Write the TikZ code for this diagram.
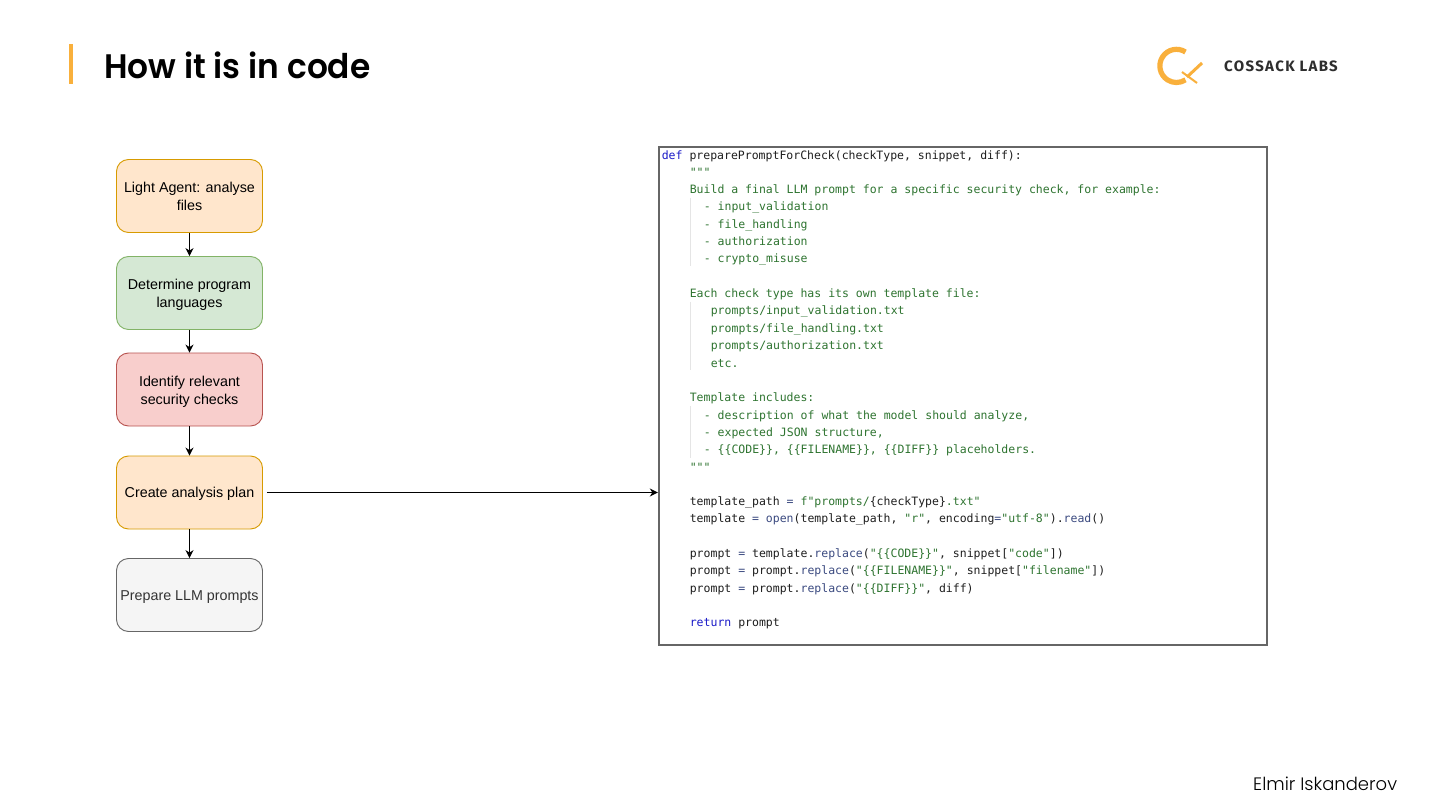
\documentclass[tikz,border=0pt]{standalone}
\usepackage{fontspec}
\usetikzlibrary{arrows.meta}
\setmainfont{Liberation Sans}
\newfontfamily\codef{DejaVu Sans Mono}
\newfontfamily\titlef[FakeStretch=0.965]{Poppins SemiBold}
\newfontfamily\lightf{Poppins Light}
\newfontfamily\logof[LetterSpace=9]{Fira Sans}
\definecolor{kw}{HTML}{1A1AC8}
\definecolor{str}{HTML}{2E7430}
\definecolor{fn}{HTML}{3B4A80}
\definecolor{txt}{HTML}{1E1E1E}
\definecolor{acc}{HTML}{F9B03C}
\newcommand{\K}[1]{\textcolor{kw}{#1}}
\newcommand{\St}[1]{\textcolor{str}{#1}}
\newcommand{\Fn}[1]{\textcolor{fn}{#1}}
\newcommand{\TwoL}[2]{\raisebox{-6pt}[0pt][0pt]{\begin{tabular}{@{}c@{}}#1\\#2\end{tabular}}}
\newcommand{\OneL}[1]{\raisebox{-5pt}[0pt][0pt]{#1}}
\tikzset{
  x=1pt,y=-1pt,
  flow/.style={draw,rounded corners=12pt,line width=0.9pt,minimum width=146pt,minimum height=73pt,
    align=center,font=\fontsize{14.3}{18}\selectfont,inner sep=0pt,text=black},
  orangebox/.style={flow,fill=Ofill,draw=Odraw},
  greenbox/.style={flow,fill=Gfill,draw=Gdraw},
  redbox/.style={flow,fill=Rfill,draw=Rdraw},
  greybox/.style={flow,fill=Wfill,draw=Wdraw,text=Wtext},
  link/.style={draw=black,line width=1pt,-{Stealth[length=8pt,width=8pt]}},
  code/.style={anchor=base west,inner sep=0pt,font=\codef\fontsize{11.5}{14}\selectfont,text=txt},
  doc/.style={code,text=str},
  guide/.style={draw=black!10,line width=0.6pt},
}
\definecolor{Ofill}{HTML}{FFE6CC}\definecolor{Odraw}{HTML}{D79B00}
\definecolor{Gfill}{HTML}{D5E8D4}\definecolor{Gdraw}{HTML}{82B366}
\definecolor{Rfill}{HTML}{F8CECC}\definecolor{Rdraw}{HTML}{B85450}
\definecolor{Wfill}{HTML}{F5F5F5}\definecolor{Wdraw}{HTML}{666666}\definecolor{Wtext}{HTML}{333333}
\begin{document}
\begin{tikzpicture}
\useasboundingbox (0,0) rectangle (1440,810);
\fill[white] (0,0) rectangle (1440,810);
% header
\fill[acc] (69,44) rectangle (73,84);
\node[anchor=base west,inner sep=0pt,font=\titlef\fontsize{34}{40}\selectfont] (title) at (104,79) {How it is in code};
% logo
\draw[acc,line width=5.2pt] (1185.5,52) arc[start angle=-57,end angle=-303,radius=16.6];
\draw[acc,line width=3pt] (1187,77) -- (1202,63);
\draw[acc,line width=2pt] (1182,72) -- (1197,83);
\node[anchor=base west,inner sep=0pt,font=\logof\fontsize{15}{18}\selectfont\bfseries,text=black!82] (logo) at (1224,72) {COSSACK LABS};
\node[anchor=base west,inner sep=0pt,font=\lightf\fontsize{18}{22}\selectfont] (author) at (1253,790) {Elmir Iskanderov};
% flow
\node[orangebox] (a) at (189.5,196) {\TwoL{Light Agent: analyse}{files}};
\node[greenbox] (b) at (189.5,293) {\TwoL{Determine program}{languages}};
\node[redbox] (c) at (189.5,389.5) {\TwoL{Identify relevant}{security checks}};
\node[orangebox] (d) at (189.5,492.5) {\OneL{Create analysis plan}};
\node[greybox] (e) at (189.5,595) {\OneL{Prepare LLM prompts}};
\draw[link] (a) -- (b);
\draw[link] (b) -- (c);
\draw[link] (c) -- (d);
\draw[link] (d) -- (e);
% code box
\node[draw=black!60,line width=1.8pt,minimum width=608pt,minimum height=498pt,inner sep=0pt,anchor=north west] (codebox) at (657.8,146.2) {};
\draw[link,shorten <=4pt,line width=1.6pt] (d.east) -- (d.east -| codebox.west);
\draw[guide] (690,198) -- (690,266);
\draw[guide] (690,302) -- (690,370);
\draw[guide] (690,406) -- (690,458);
\node[code] (l1) at (661.6,159.5) {\K{def} preparePromptForCheck(checkType, snippet, diff):};
\node[doc] (l2) at (689.6,176.5) {"""};
\node[doc] (l3) at (689.6,193.5) {Build a final LLM prompt for a specific security check, for example:};
\node[doc] (l4) at (703.6,211) {- input\_validation};
\node[doc] (l5) at (703.6,228.5) {- file\_handling};
\node[doc] (l6) at (703.6,245.5) {- authorization};
\node[doc] (l7) at (703.6,263) {- crypto\_misuse};
\node[doc] (l8) at (689.6,297.5) {Each check type has its own template file:};
\node[doc] (l9) at (710.6,315) {prompts/input\_validation.txt};
\node[doc] (l10) at (710.6,332) {prompts/file\_handling.txt};
\node[doc] (l11) at (710.6,349.5) {prompts/authorization.txt};
\node[doc] (l12) at (710.6,367) {etc.};
\node[doc] (l13) at (689.6,401.5) {Template includes:};
\node[doc] (l14) at (703.6,419) {- description of what the model should analyze,};
\node[doc] (l15) at (703.6,436) {- expected JSON structure,};
\node[doc] (l16) at (703.6,453.5) {- \{\{CODE\}\}, \{\{FILENAME\}\}, \{\{DIFF\}\} placeholders.};
\node[doc] (l17) at (689.6,471) {"""};
\node[code] (l18) at (689.6,505.5) {template\_path \Fn{=} \St{f"prompts/}\{checkType\}\St{.txt"}};
\node[code] (l19) at (689.6,522.5) {template \Fn{=} \Fn{open}(template\_path, \St{"r"}, encoding\Fn{=}\St{"utf-8"}).\Fn{read}()};
\node[code] (l20) at (689.6,557.5) {prompt \Fn{=} template.\Fn{replace}(\St{"\{\{CODE\}\}"}, snippet[\St{"code"}])};
\node[code] (l21) at (689.6,574.5) {prompt \Fn{=} prompt.\Fn{replace}(\St{"\{\{FILENAME\}\}"}, snippet[\St{"filename"}])};
\node[code] (l22) at (689.6,592) {prompt \Fn{=} prompt.\Fn{replace}(\St{"\{\{DIFF\}\}"}, diff)};
\node[code] (l23) at (689.6,626.5) {\K{return} prompt};
\end{tikzpicture}
\end{document}
